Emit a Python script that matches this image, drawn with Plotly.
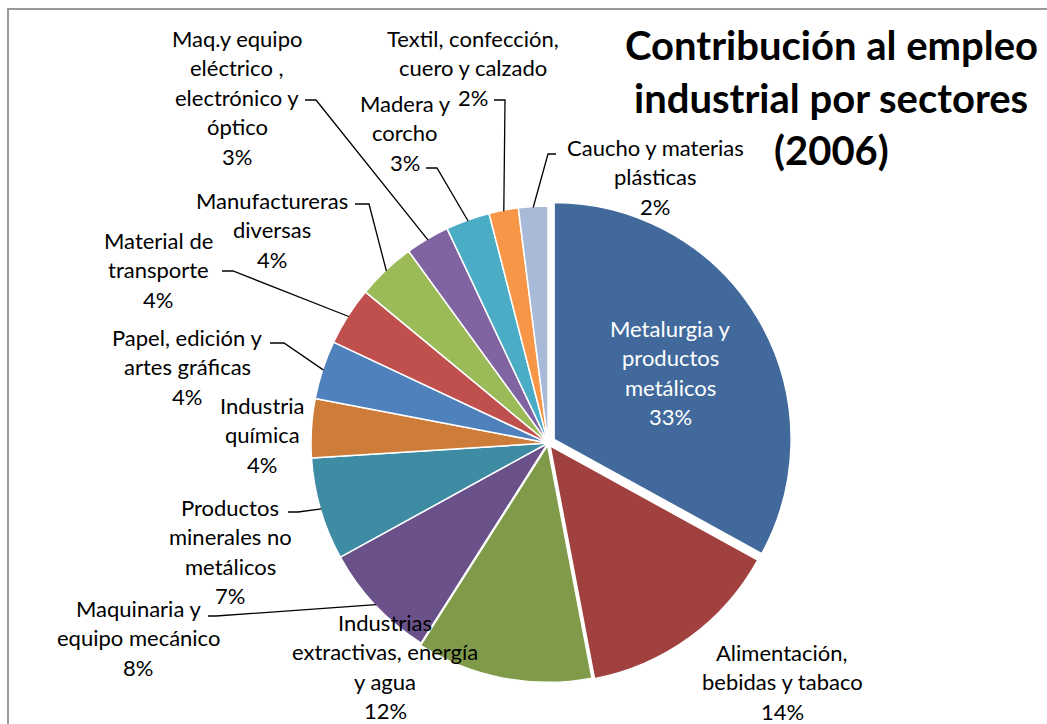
import math
import plotly.graph_objects as go

# Employment share by industrial sector, Spain 2006 (%)
sectors = [
    "Metalurgia y<br>productos<br>metálicos",
    "Alimentación,<br>bebidas y tabaco",
    "Industrias<br>extractivas, energía<br>y agua",
    "Maquinaria y<br>equipo mecánico",
    "Productos<br>minerales no<br>metálicos",
    "Industria<br>química",
    "Papel, edición y<br>artes gráficas",
    "Material de<br>transporte",
    "Manufactureras<br>diversas",
    "Maq.y equipo<br>eléctrico ,<br>electrónico y<br>óptico",
    "Madera y<br>corcho",
    "Textil, confección,<br>cuero y calzado",
    "Caucho y materias<br>plásticas",
]
shares = [33, 14, 12, 8, 7, 4, 4, 4, 4, 3, 3, 2, 2]
colors = ["#41699B", "#A0413F", "#7F9B4A", "#6A5189", "#3D8CA3", "#CD7C39",
          "#4F81BD", "#C0504D", "#9BBB59", "#8064A2", "#4BACC6", "#F79646",
          "#A9B9D8"]
pulls = [0.03, 0.015, 0.01, 0, 0, 0, 0, 0, 0, 0, 0, 0, 0]

title_lines = ["Contribución al empleo", "industrial por sectores", "(2006)"]

W, H = 1047, 724
CX, CY, R = 548, 443, 237          # pie centre and radius in px
LINE_H = 29.5                      # label line spacing (px)
FONT = "Lato"

# label block placement: (centre x, first line y, colour)
label_pos = [
    (670, 328, "white"), (782, 652, "black"), (385, 622, "black"),
    (138, 608, "black"), (230, 507, "black"), (262, 405, "black"),
    (187, 337, "black"), (158, 240, "black"), (272, 200, "black"),
    (237, 38, "black"), (405, 103, "black"), (473, 38, "black"),
    (655, 147, "black"),
]
# leader lines: (start x, elbow x, y of horizontal tick) or None
leaders = [
    None, None, None, (208, 216, 616), (288, 298, 512), None,
    (270, 284, 343), (222, 233, 271), (355, 369, 204), (305, 316, 100),
    (426, 437, 168), (494, 505, 100), (556, 548, 154),
]

total = sum(shares)
maxpull = max(pulls)
half = R * (1 + maxpull)

fig = go.Figure()
fig.add_trace(go.Pie(
    values=shares, labels=[s.replace("<br>", " ") for s in sectors],
    marker=dict(colors=colors, line=dict(color="white", width=1.5)),
    pull=pulls, sort=False, direction="clockwise", rotation=0,
    textinfo="none", hoverinfo="label+percent", showlegend=False,
    domain=dict(x=[(CX - half) / W, (CX + half) / W],
                y=[(H - CY - half) / H, (H - CY + half) / H]),
))

annotations = []
shapes = []
cum = 0.0
for name, v, pos, ld in zip(sectors, shares, label_pos, leaders):
    mid = (cum + v / 2) / total * 2 * math.pi
    cum += v
    lines = name.split("<br>") + [f"{round(v / total * 100)}%"]
    cx, y0, col = pos
    for i, ln in enumerate(lines):
        annotations.append(dict(
            x=cx, y=y0 + i * LINE_H, xref="x", yref="y", text=ln,
            showarrow=False, xanchor="center", yanchor="middle",
            font=dict(family=FONT, size=22, color=col)))
    if ld:
        ex = CX + (R - 1) * math.sin(mid)
        ey = CY - (R - 1) * math.cos(mid)
        xs, xe, yl = ld
        shapes.append(dict(
            type="path", xref="x", yref="y",
            path=f"M {xs} {yl} L {xe} {yl} L {ex:.1f} {ey:.1f}",
            line=dict(color="black", width=1.3)))

for i, t in enumerate(title_lines):
    annotations.append(dict(
        x=831, y=45 + i * 52.5, xref="x", yref="y", text=f"<b>{t}</b>",
        showarrow=False, xanchor="center", yanchor="middle",
        font=dict(family=FONT, size=40, color="black")))

# chart-area frame
shapes.append(dict(type="rect", xref="x", yref="y", x0=8, y0=9, x1=1070,
                   y1=760, line=dict(color="#9a9a9a", width=2),
                   layer="below"))

fig.update_layout(
    width=W, height=H, margin=dict(l=0, r=0, t=0, b=0),
    paper_bgcolor="white", plot_bgcolor="rgba(0,0,0,0)",
    xaxis=dict(range=[0, W], visible=False, fixedrange=True,
               domain=[0, 1]),
    yaxis=dict(range=[H, 0], visible=False, fixedrange=True,
               domain=[0, 1]),
    annotations=annotations, shapes=shapes,
)

fig.write_html("out.html")
